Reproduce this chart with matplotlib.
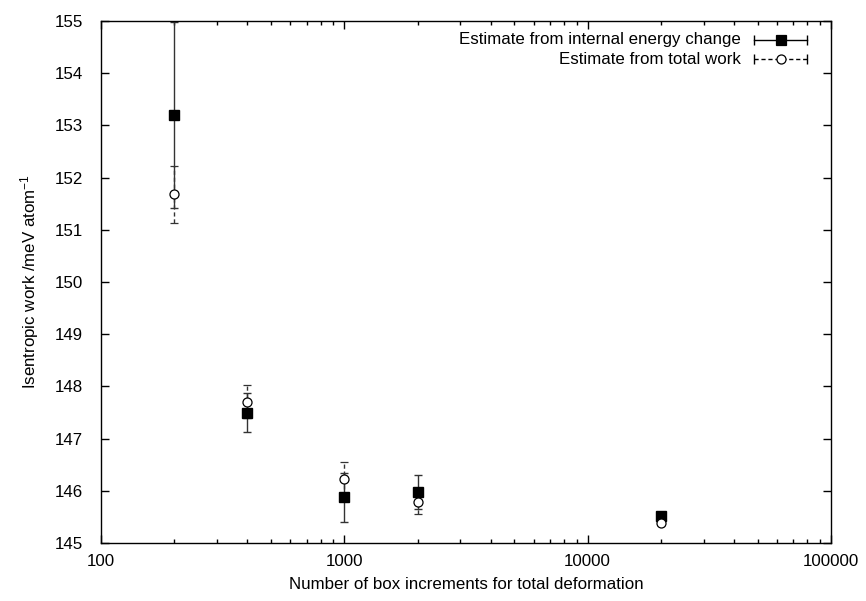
import matplotlib
matplotlib.use('Agg')
import matplotlib.pyplot as plt
from matplotlib.ticker import NullFormatter, LogLocator

plt.rcParams['font.family'] = ['Liberation Sans', 'DejaVu Sans']
plt.rcParams['mathtext.fontset'] = 'custom'
plt.rcParams['mathtext.rm'] = 'Liberation Sans'
plt.rcParams['mathtext.it'] = 'Liberation Sans:italic'
plt.rc('font', size=12.2)

# data
increments = [200, 400, 1000, 2000, 20000]
energyEst = [153.2, 147.5, 145.88, 145.98, 145.52]
energyErr = [1.78, 0.37, 0.47, 0.32, 0.05]
workEst = [151.68, 147.71, 146.23, 145.78, 145.38]
workErr = [0.55, 0.31, 0.33, 0.23, 0.04]
labels = ['Estimate from internal energy change', 'Estimate from total work']

fig = plt.figure(figsize=(8.66, 6.01), dpi=100)
ax = fig.add_axes([0.1166, 0.0965, 0.843, 0.8685])

e1 = ax.errorbar(increments, energyEst, yerr=energyErr, fmt='s', color='black',
                 ms=6.8, elinewidth=1.0, capsize=3, capthick=1.0, ecolor='#333333')
e2 = ax.errorbar(increments, workEst, yerr=workErr, fmt='o', mfc='white', mec='black',
                 mew=0.9, ms=6.5, elinewidth=1.0, capsize=3, capthick=1.0, ecolor='#333333')
for lc in e2[2]:
    lc.set_linestyle((0, (3, 2)))

ax.set_xscale('log')
ax.set_xlim(100, 100000)
ax.set_ylim(145, 155)
ax.set_yticks(range(145, 156))
ax.set_xticks([100, 1000, 10000, 100000])
ax.set_xticklabels(['100', '1000', '10000', '100000'])
ax.xaxis.set_minor_locator(LogLocator(base=10, subs=range(2, 10)))
ax.xaxis.set_minor_formatter(NullFormatter())
ax.tick_params(which='both', direction='in', top=True, right=True, width=1.0)
ax.tick_params(which='major', length=6)
ax.tick_params(which='minor', length=3)
ax.tick_params(axis='y', which='major', pad=13)
ax.tick_params(axis='x', which='major', pad=8)
for s in ax.spines.values():
    s.set_linewidth(1.0)

ax.set_xlabel('Number of box increments for total deformation', labelpad=6)
ax.set_ylabel('Isentropic work /meV atom$^{\\mathregular{-1}}$', labelpad=10)

# gnuplot style key: text right-justified, sample on the right
tr = ax.transAxes
rows = [(0.964, 's', 'black', '-'), (0.927, 'o', 'white', (0, (3, 2)))]
for (yy, mk, fc, ls), lab in zip(rows, labels):
    ax.text(0.877, yy, lab, transform=tr, ha='right', va='center')
    ax.plot([0.895, 0.967], [yy, yy], transform=tr, color='black', lw=1.0, ls=ls,
            clip_on=False)
    ax.plot([0.895, 0.967], [yy, yy], transform=tr, ls='none', marker='|', ms=7,
            mew=1.0, color='black', clip_on=False)
    ax.plot([0.931], [yy], transform=tr, ls='none', marker=mk, ms=6.5, mfc=fc,
            mec='black', mew=0.9, clip_on=False)

fig.savefig('out.png', dpi=100)
plt.close(fig)
